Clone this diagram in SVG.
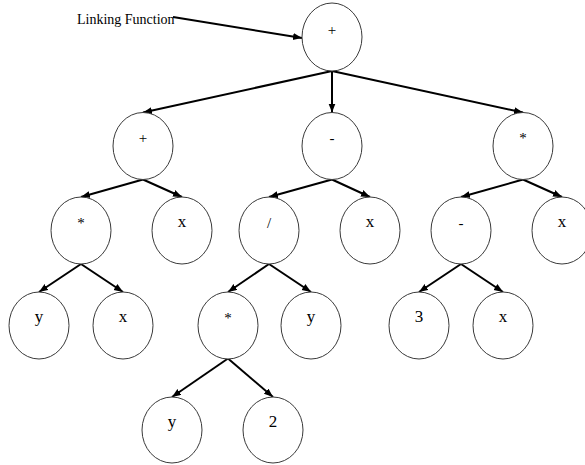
<svg xmlns="http://www.w3.org/2000/svg" width="585" height="465" viewBox="0 0 585 465">
  <style>
    .node ellipse { fill: #ffffff; stroke: #3a3a3a; stroke-width: 1; }
    .node text { font-family: "Liberation Serif", "Times New Roman", serif; fill: #000; text-anchor: middle; }
    .op { font-size: 15px; }
    .leaf { font-size: 17px; }
    .edge { stroke: #000; stroke-width: 2; fill: none; marker-end: url(#arrow); }
    .label { font-family: "Liberation Serif", "Times New Roman", serif; font-size: 14px; fill: #000; }
  </style>
  <defs>
    <marker id="arrow" markerUnits="userSpaceOnUse" markerWidth="10" markerHeight="8" refX="9" refY="3.5" orient="auto">
      <path d="M0,0 L9,3.5 L0,7 Z" fill="#000"/>
    </marker>
  </defs>

  <rect width="585" height="465" fill="#ffffff"/>

  <text class="label" x="77" y="24">Linking Function</text>

  <!-- connectors -->
  <g id="edges">
    <line class="edge" x1="173" y1="17" x2="302" y2="38"/>
    <line class="edge" x1="332" y1="71" x2="143" y2="112.5"/>
    <line class="edge" x1="332" y1="71" x2="332" y2="112.5"/>
    <line class="edge" x1="332" y1="71" x2="523" y2="112.5"/>

    <line class="edge" x1="143" y1="179.5" x2="81" y2="197"/>
    <line class="edge" x1="143" y1="179.5" x2="182" y2="197"/>
    <line class="edge" x1="332" y1="179.5" x2="269" y2="197"/>
    <line class="edge" x1="332" y1="179.5" x2="370" y2="197"/>
    <line class="edge" x1="523" y1="179.5" x2="461" y2="197"/>
    <line class="edge" x1="523" y1="179.5" x2="562" y2="197"/>

    <line class="edge" x1="81" y1="264" x2="39" y2="292"/>
    <line class="edge" x1="81" y1="264" x2="123" y2="292"/>
    <line class="edge" x1="269" y1="264" x2="228" y2="292"/>
    <line class="edge" x1="269" y1="264" x2="311" y2="292"/>
    <line class="edge" x1="461" y1="264" x2="419" y2="292"/>
    <line class="edge" x1="461" y1="264" x2="503" y2="292"/>

    <line class="edge" x1="228" y1="358.5" x2="172" y2="397"/>
    <line class="edge" x1="228" y1="358.5" x2="273" y2="397"/>
  </g>

  <!-- nodes -->
  <g id="n-root" class="node"><ellipse cx="332" cy="37" rx="30" ry="34"/><text class="op" x="332" y="35">+</text></g>

  <g id="n-plus" class="node"><ellipse cx="143" cy="146" rx="30" ry="33.5"/><text class="op" x="143" y="143">+</text></g>
  <g id="n-minus" class="node"><ellipse cx="332" cy="146" rx="30" ry="33.5"/><text class="op" x="332" y="143">-</text></g>
  <g id="n-times" class="node"><ellipse cx="523" cy="146" rx="30" ry="33.5"/><text class="op" x="523" y="143">*</text></g>

  <g id="n-times2" class="node"><ellipse cx="81" cy="230.5" rx="30" ry="33.5"/><text class="op" x="81" y="228">*</text></g>
  <g id="n-x1" class="node"><ellipse cx="182" cy="230.5" rx="30" ry="33.5"/><text class="leaf" x="182" y="227">x</text></g>
  <g id="n-div" class="node"><ellipse cx="269" cy="230.5" rx="30" ry="33.5"/><text class="op" x="269" y="228">/</text></g>
  <g id="n-x2" class="node"><ellipse cx="370" cy="230.5" rx="30" ry="33.5"/><text class="leaf" x="370" y="227">x</text></g>
  <g id="n-minus2" class="node"><ellipse cx="461" cy="230.5" rx="30" ry="33.5"/><text class="op" x="461" y="228">-</text></g>
  <g id="n-x3" class="node"><ellipse cx="562" cy="230.5" rx="30" ry="33.5"/><text class="leaf" x="562" y="227">x</text></g>

  <g id="n-y1" class="node"><ellipse cx="39" cy="325.5" rx="30" ry="33.5"/><text class="leaf" x="39" y="322">y</text></g>
  <g id="n-x4" class="node"><ellipse cx="123" cy="325.5" rx="30" ry="33.5"/><text class="leaf" x="123" y="322">x</text></g>
  <g id="n-times3" class="node"><ellipse cx="228" cy="325.5" rx="30" ry="33.5"/><text class="op" x="228" y="323">*</text></g>
  <g id="n-y2" class="node"><ellipse cx="311" cy="325.5" rx="30" ry="33.5"/><text class="leaf" x="311" y="322">y</text></g>
  <g id="n-three" class="node"><ellipse cx="419" cy="325.5" rx="30" ry="33.5"/><text class="leaf" x="419" y="322">3</text></g>
  <g id="n-x5" class="node"><ellipse cx="503" cy="325.5" rx="30" ry="33.5"/><text class="leaf" x="503" y="322">x</text></g>

  <g id="n-y3" class="node"><ellipse cx="172" cy="430" rx="30" ry="33"/><text class="leaf" x="172" y="427">y</text></g>
  <g id="n-two" class="node"><ellipse cx="273" cy="430" rx="30" ry="33"/><text class="leaf" x="273" y="427">2</text></g>
</svg>
